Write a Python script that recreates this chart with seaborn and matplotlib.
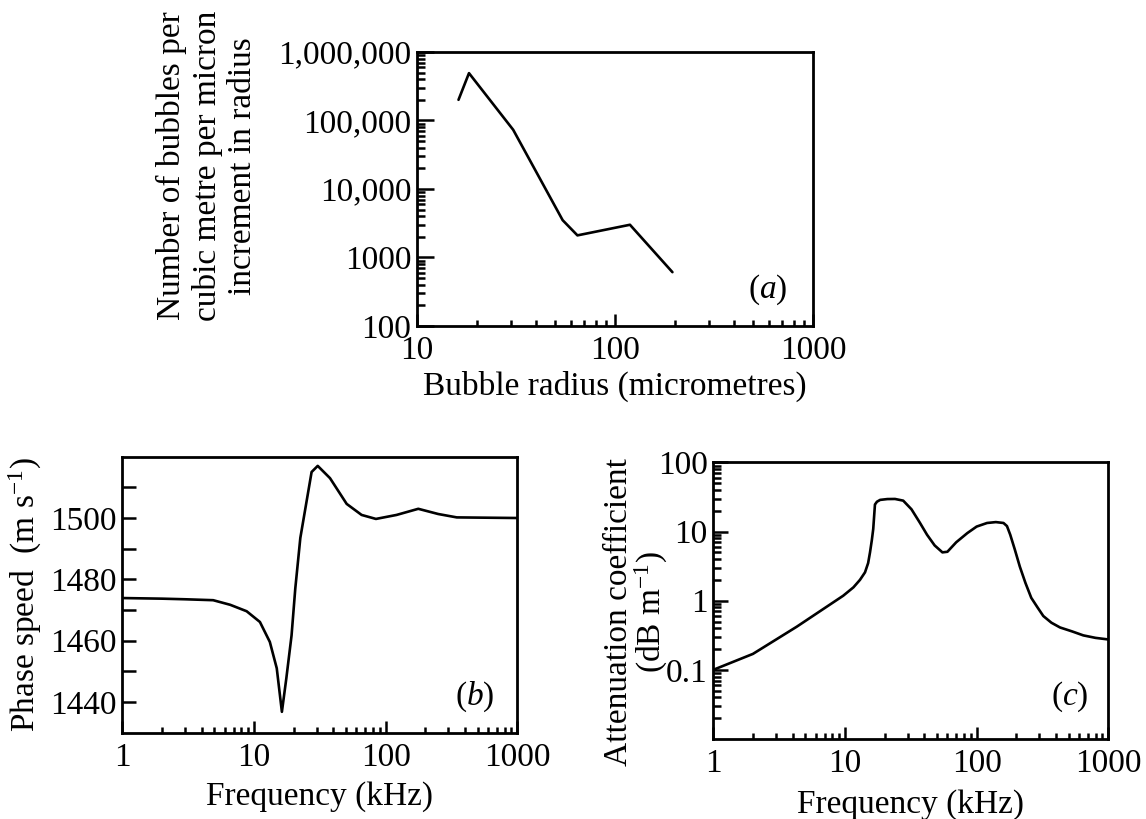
import numpy as np
import pandas as pd
import matplotlib
matplotlib.use('Agg')
import matplotlib.pyplot as plt
import matplotlib.ticker as mticker
import seaborn as sns

# panel (a): bubble size distribution
radius_um = [16.2, 18.3, 30.6, 54.4, 64.6, 119, 195]
bubbles_per_m3 = [2.0e5, 4.9e5, 7.3e4, 3.5e3, 2.1e3, 3.0e3, 610]

# panel (b): phase speed
freq_b = [1, 2, 3, 4.9, 6.6, 8.8, 11.1, 13.2, 14.9, 16.3, 17.6, 19.3, 20.6, 22.5,
          27.4, 30.5, 37.8, 50.6, 65.7, 84.4, 121, 177, 251, 347, 1000]
phase_speed = [1473.9, 1473.7, 1473.5, 1473.2, 1471.7, 1469.6, 1466.1, 1459.6, 1451.0,
               1436.8, 1447.6, 1461.7, 1477.0, 1493.5, 1515.0, 1517.0, 1513.0, 1504.6,
               1501.0, 1499.7, 1501.0, 1503.0, 1501.3, 1500.2, 1500.0]

# panel (c): attenuation
freq_c = [1, 2, 4.3, 9.7, 11.6, 13, 14.2, 15, 15.5, 16, 16.4, 16.9, 17.5, 18.5, 21,
          24, 27.7, 32, 37, 42, 48, 55, 60, 70, 85, 100, 120, 140, 160, 170, 180,
          195, 213, 235, 260, 290, 321, 370, 430, 530, 646, 800, 1000]
attenuation = [0.1, 0.17, 0.42, 1.18, 1.56, 2.0, 2.57, 3.5, 5.0, 7.5, 10.9, 24.6, 27.0,
               28.7, 29.5, 29.6, 28.0, 21.0, 13.5, 9.0, 6.3, 5.0, 5.1, 7.0, 9.5, 11.8,
               13.3, 13.7, 13.3, 12.0, 9.0, 5.5, 3.1, 1.8, 1.1, 0.8, 0.6, 0.48, 0.41,
               0.36, 0.315, 0.29, 0.275]

sns.set_theme(style='ticks')
plt.rcParams['font.family'] = ['Liberation Serif', 'DejaVu Serif']
plt.rcParams['mathtext.fontset'] = 'custom'
plt.rcParams['mathtext.rm'] = 'Liberation Serif'
plt.rcParams['mathtext.it'] = 'Liberation Serif:italic'
plt.rcParams['font.size'] = 24
plt.rcParams['text.color'] = 'black'
plt.rcParams['axes.labelcolor'] = 'black'
plt.rcParams['xtick.color'] = 'black'
plt.rcParams['ytick.color'] = 'black'

FS = 24
LW = 1.9


def style_axes(ax):
    for s in ax.spines.values():
        s.set_linewidth(2.0)
        s.set_color('black')
    ax.tick_params(which='both', direction='in', top=False, right=False,
                   colors='black', labelcolor='black', labelsize=FS, width=1.8)
    ax.tick_params(axis='x', which='major', length=9, pad=7)
    ax.tick_params(axis='x', which='minor', length=4.5)
    ax.tick_params(axis='y', which='major', pad=4)
    ax.set_facecolor('white')


fig = plt.figure(figsize=(11.46, 8.19), dpi=100)

# ---- (a)
ax_a = fig.add_axes([0.3639, 0.6020, 0.3455, 0.3346])
df_a = pd.DataFrame({'r': radius_um, 'n': bubbles_per_m3})
ax_a.set_xscale('log')
ax_a.set_yscale('log')
sns.lineplot(data=df_a, x='r', y='n', ax=ax_a, color='black', lw=LW, estimator=None, sort=False)
ax_a.set_xlim(10, 1000)
ax_a.set_ylim(100, 1e6)
ax_a.set_xticks([10, 100, 1000])
ax_a.set_xticklabels(['10', '100', '1000'])
ax_a.set_yticks([100, 1000, 1e4, 1e5, 1e6])
ax_a.set_yticklabels(['100', '1000', '10,000', '100,000', '1,000,000'])
for axis in (ax_a.xaxis, ax_a.yaxis):
    axis.set_minor_locator(mticker.LogLocator(base=10, subs=np.arange(2, 10)))
    axis.set_minor_formatter(mticker.NullFormatter())
style_axes(ax_a)
ax_a.tick_params(axis='y', which='major', length=12)
ax_a.tick_params(axis='y', which='minor', length=6)
ax_a.set_xlabel('Bubble radius (micrometres)', fontsize=FS, va='center')
ax_a.xaxis.set_label_coords(0.5, -0.222)
ax_a.set_ylabel('Number of bubbles per\ncubic metre per micron\nincrement in radius',
                fontsize=FS, va='center', linespacing=1.2)
ax_a.yaxis.set_label_coords(-0.53, 0.585)
ax_a.text(0.886, 0.131, r'$(\mathit{a})$', transform=ax_a.transAxes, fontsize=FS,
          ha='center', va='center')

# ---- (b)
ax_b = fig.add_axes([0.1067, 0.1054, 0.3447, 0.3370])
df_b = pd.DataFrame({'f': freq_b, 'c': phase_speed})
ax_b.set_xscale('log')
sns.lineplot(data=df_b, x='f', y='c', ax=ax_b, color='black', lw=LW, estimator=None, sort=False)
ax_b.set_xlim(1, 1000)
ax_b.set_ylim(1430, 1520)
ax_b.set_xticks([1, 10, 100, 1000])
ax_b.set_xticklabels(['1', '10', '100', '1000'])
ax_b.xaxis.set_minor_locator(mticker.LogLocator(base=10, subs=np.arange(2, 10)))
ax_b.xaxis.set_minor_formatter(mticker.NullFormatter())
ax_b.set_yticks([1440, 1460, 1480, 1500])
ax_b.set_yticklabels(['1440', '1460', '1480', '1500'])
ax_b.yaxis.set_minor_locator(mticker.FixedLocator([1450, 1470, 1490, 1510]))
style_axes(ax_b)
ax_b.tick_params(axis='y', which='both', length=10)
ax_b.set_xlabel('Frequency (kHz)', fontsize=FS, va='center')
ax_b.xaxis.set_label_coords(0.5, -0.233)
ax_b.set_ylabel(r'Phase speed  (m s$^{\mathregular{-1}}$)', fontsize=FS, va='center')
ax_b.yaxis.set_label_coords(-0.245, 0.5)
ax_b.text(0.893, 0.13, r'$(\mathit{b})$', transform=ax_b.transAxes, fontsize=FS,
          ha='center', va='center')

# ---- (c)
ax_c = fig.add_axes([0.6224, 0.0977, 0.3447, 0.3377])
df_c = pd.DataFrame({'f': freq_c, 'att': attenuation})
ax_c.set_xscale('log')
ax_c.set_yscale('log')
sns.lineplot(data=df_c, x='f', y='att', ax=ax_c, color='black', lw=LW, estimator=None, sort=False)
ax_c.set_xlim(1, 1000)
ax_c.set_ylim(0.01, 100)
ax_c.set_xticks([1, 10, 100, 1000])
ax_c.set_xticklabels(['1', '10', '100', '1000'])
ax_c.set_yticks([0.1, 1, 10, 100])
ax_c.set_yticklabels(['0.1', '1', '10', '100'])
for axis in (ax_c.xaxis, ax_c.yaxis):
    axis.set_minor_locator(mticker.LogLocator(base=10, subs=np.arange(2, 10)))
    axis.set_minor_formatter(mticker.NullFormatter())
style_axes(ax_c)
ax_c.tick_params(axis='y', which='major', length=11)
ax_c.tick_params(axis='y', which='minor', length=6)
ax_c.set_xlabel('Frequency (kHz)', fontsize=FS, va='center')
ax_c.xaxis.set_label_coords(0.5, -0.2375)
ax_c.set_ylabel('Attenuation coefficient\n' + r'(dB m$^{\mathregular{-1}}$)',
                fontsize=FS, va='center', linespacing=0.95)
ax_c.yaxis.set_label_coords(-0.193, 0.46)
ax_c.text(0.903, 0.154, r'$(\mathit{c})$', transform=ax_c.transAxes, fontsize=FS,
          ha='center', va='center')

fig.savefig('out.png', dpi=100, facecolor='white')
